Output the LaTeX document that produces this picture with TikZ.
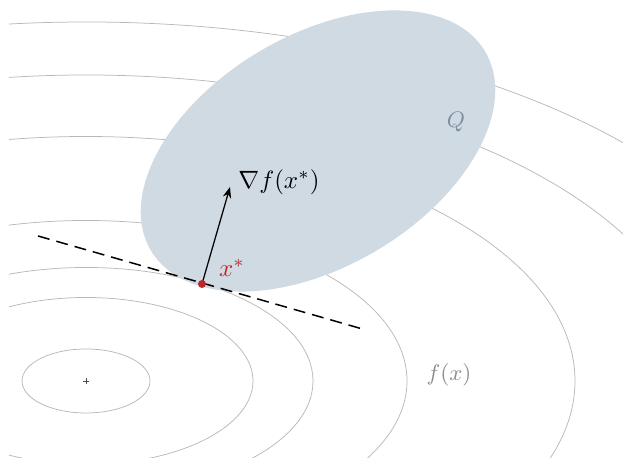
\documentclass[tikz,border=0pt]{standalone}
\usetikzlibrary{arrows.meta,calc}
\definecolor{qfill}{HTML}{D0DAE2}
\definecolor{qtext}{HTML}{7D8FA0}
\definecolor{levelc}{HTML}{B8B8B8}
\definecolor{xred}{HTML}{C0262C}
\tikzset{
  level/.style={draw=levelc, line width=0.3pt},
  tangent/.style={draw=black, line width=0.6pt, dash pattern=on 4.8pt off 2.8pt},
  gradarrow/.style={draw=black, line width=0.5pt, -{Stealth[length=4.4pt,width=3.4pt]}},
}
\begin{document}
\begin{tikzpicture}[x=0.4pt,y=0.4pt]
\useasboundingbox (0,0) rectangle (623,458);
\coordinate (C) at (86,77);
% level sets of f
\begin{scope}
  \clip (9,0) rectangle (623,458);
  \foreach \r in {64,167,227,321,489,612,718}
    \draw[level] (C) ellipse [x radius=\r, y radius=\r/2];
\end{scope}
% feasible set Q
\fill[qfill] (318,307) ellipse [x radius=194.5, y radius=115.5, rotate=30.8];
% center mark
\draw[draw=black!70, line width=0.3pt] ($(C)+(-3,0)$) -- ($(C)+(3,0)$) ($(C)+(0,-3)$) -- ($(C)+(0,3)$);
% tangent and gradient
\coordinate (xs) at (202,174);
\coordinate (ta) at (38,222);
\coordinate (tb) at (366,128);
\coordinate (g) at (230,271);
\draw[tangent] (ta) -- (tb);
\draw[gradarrow] (xs) -- (g);
\fill[xred] (xs) circle [radius=4];
% labels
\node[anchor=west, inner sep=0pt] (gl) at (238,276) {$\nabla f(x^*)$};
\node[text=xred, inner sep=0pt] (xl) at (232,190) {$x^*$};
\node[text=qtext, inner sep=0pt, font=\fontsize{9}{10}\selectfont] (ql) at (456,336) {$Q$};
\node[text=black!45, inner sep=0pt, font=\fontsize{8.6}{10}\selectfont] (fl) at (449,83) {$f(x)$};
\end{tikzpicture}
\end{document}
